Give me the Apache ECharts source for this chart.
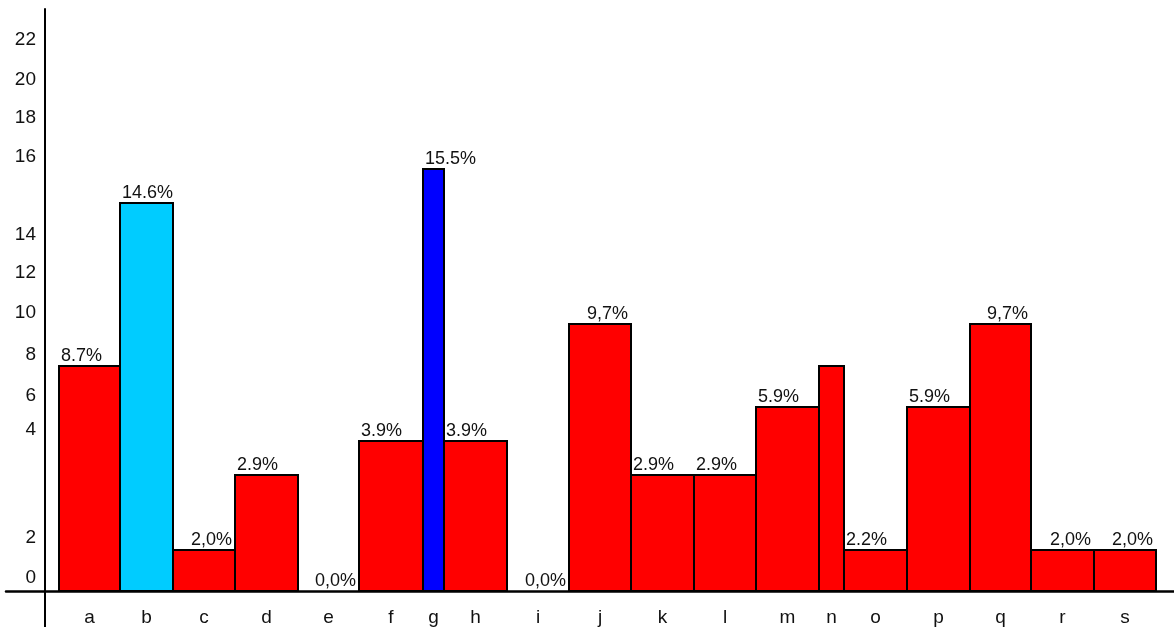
<!DOCTYPE html>
<html>
<head>
<meta charset="utf-8">
<script src="https://cdn.jsdelivr.net/npm/echarts@6/dist/echarts.min.js"></script>
<style>
  html, body { margin: 0; padding: 0; background: #fff; }
  #chart { width: 1174px; height: 627px; }
</style>
</head>
<body>
<div id="chart"></div>
<script>
// ---- data ----
const categories = ['a','b','c','d','e','f','g','h','i','j','k','l','m','n','o','p','q','r','s'];
// bar heights in axis units
const barHeights = [225, 388, 41, 116, 0, 150, 422, 150, 0, 267, 116, 116, 184, 225, 41, 184, 267, 41, 41];
// bar widths in axis units (bars sit edge to edge)
const barWidths = [61, 53, 62, 63, 61, 64, 21, 63, 62, 62, 63, 62, 63, 25, 63, 63, 61, 63, 62];
const valueLabels = ['8.7%','14.6%','2,0%','2.9%','0,0%','3.9%','15.5%','3.9%','0,0%','9,7%','2.9%','2.9%','5.9%','','2.2%','5.9%','9,7%','2,0%','2,0%'];
const firstBarOffset = 14;
const yTickValues = [13, 53, 161, 195, 236, 278, 318, 356, 434, 473, 511, 551];
const yTickLabels = ['0','2','4','6','8','10','12','14','16','18','20','22'];

// ---- styles ----
const defaultColor = '#ff0000';
const highlightColors = { b: '#00ccff', g: '#0000ff' };
const FONT = '"Liberation Sans", Arial, sans-serif';
const X_MAX = 1129, Y_MAX = 582, X_EXT = -39, Y_EXT = -36;

// ---- build series data ----
const seriesData = [];
const centers = [];
let x = firstBarOffset;
barWidths.forEach((w, i) => {
  seriesData.push([x, x + w, barHeights[i], i]);
  centers.push(x + w / 2);
  x += w;
});

function nearestIndex(arr, v) {
  let best = 0, bd = Infinity;
  arr.forEach((a, i) => { const d = Math.abs(a - v); if (d < bd) { bd = d; best = i; } });
  return best;
}

const noLine = { show: false };
const chart = echarts.init(document.getElementById('chart'), null, { renderer: 'canvas' });
chart.setOption({
  animation: false,
  backgroundColor: '#fff',
  grid: [
    // plot area (bars + labels)
    { left: 45, right: 0, top: 9, bottom: 36 },
    // full extent, used only for the crossing axis lines
    { left: 6, right: 0, top: 9, bottom: 0 }
  ],
  xAxis: [
    {
      gridIndex: 0, type: 'value', min: 0, max: X_MAX,
      axisLine: noLine, axisTick: { show: false }, splitLine: { show: false },
      axisLabel: {
        customValues: centers,
        formatter: v => categories[nearestIndex(centers, v)],
        color: '#111', fontSize: 19, fontFamily: FONT, margin: 17
      }
    },
    {
      gridIndex: 1, type: 'value', min: X_EXT, max: X_MAX,
      axisLine: { show: true, onZero: true, lineStyle: { color: '#000', width: 2.5 } },
      axisTick: { show: false }, splitLine: { show: false }, axisLabel: { show: false }
    }
  ],
  yAxis: [
    {
      gridIndex: 0, type: 'value', min: 0, max: Y_MAX,
      axisLine: noLine, axisTick: { show: false }, splitLine: { show: false },
      axisLabel: {
        customValues: yTickValues,
        formatter: v => yTickLabels[nearestIndex(yTickValues, v)],
        color: '#111', fontSize: 19, fontFamily: FONT, margin: 9
      }
    },
    {
      gridIndex: 1, type: 'value', min: Y_EXT, max: Y_MAX,
      axisLine: { show: true, onZero: true, lineStyle: { color: '#000', width: 2 } },
      axisTick: { show: false }, splitLine: { show: false }, axisLabel: { show: false }
    }
  ],
  series: [{
    type: 'custom',
    xAxisIndex: 0, yAxisIndex: 0,
    clip: false,
    z: 1,
    data: seriesData,
    encode: { x: [0, 1], y: 2 },
    renderItem: function (params, api) {
      const idx = api.value(3);
      const topLeft = api.coord([api.value(0), api.value(2)]);
      const botRight = api.coord([api.value(1), 0]);
      const cat = categories[idx];
      const label = valueLabels[idx];
      const children = [];
      if (api.value(2) > 0) {
        children.push({
          type: 'rect',
          shape: { x: topLeft[0], y: topLeft[1], width: botRight[0] - topLeft[0], height: botRight[1] - topLeft[1] },
          style: { fill: highlightColors[cat] || defaultColor, stroke: '#000', lineWidth: 2 }
        });
      }
      if (label) {
        const rightAligned = label.indexOf(',') >= 0;
        children.push({
          type: 'text',
          style: {
            text: label,
            x: rightAligned ? botRight[0] - 3 : topLeft[0] + 2,
            y: topLeft[1] - 1,
            align: rightAligned ? 'right' : 'left',
            verticalAlign: 'bottom',
            fill: '#111',
            font: '18px ' + FONT
          }
        });
      }
      return { type: 'group', children: children };
    }
  }]
});
</script>
</body>
</html>
